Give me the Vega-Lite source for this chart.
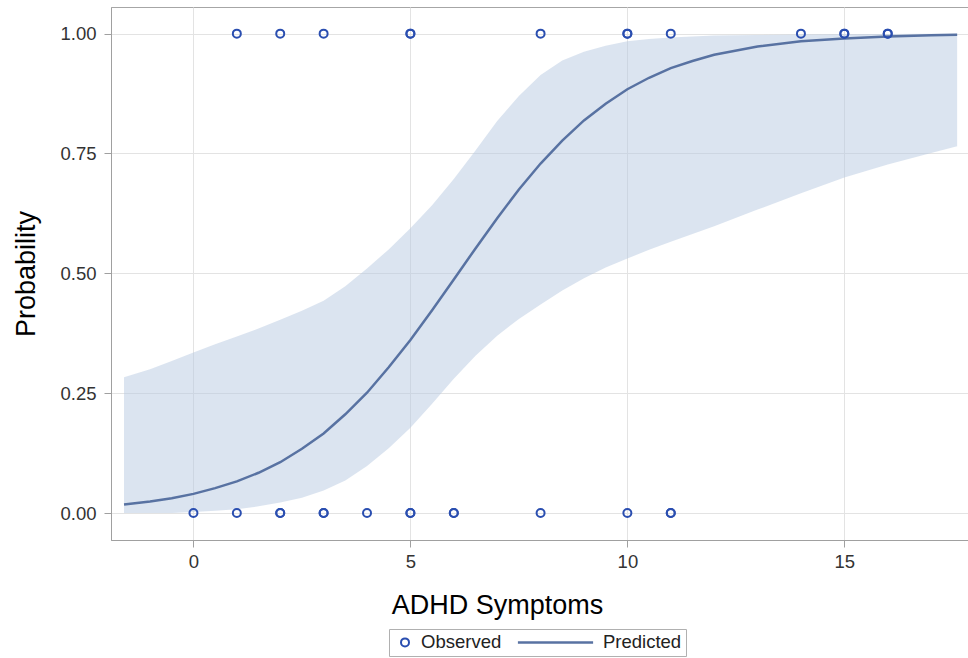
{
  "$schema": "https://vega.github.io/schema/vega-lite/v6.json",
  "width": 857,
  "height": 533,
  "autosize": {"type": "none"},
  "padding": {"left": 111, "top": 7, "right": 0, "bottom": 118},
  "background": "white",
  "config": {
    "font": "Liberation Sans",
    "view": {"stroke": "#a6a6a6", "strokeWidth": 1},
    "axis": {
      "domainColor": "#a0a0a0",
      "tickColor": "#a0a0a0",
      "tickSize": 7,
      "gridColor": "#e3e3e3",
      "labelFontSize": 18.5,
      "labelColor": "#333333",
      "titleFontSize": 27,
      "titleFontWeight": "normal",
      "titleColor": "#000000"
    }
  },
  "datasets": {
    "curve": [
      {"x": -1.6, "p": 0.018, "lo": 0.0, "hi": 0.283},
      {"x": -1.0, "p": 0.024, "lo": 0.0, "hi": 0.300},
      {"x": -0.5, "p": 0.031, "lo": 0.0, "hi": 0.317},
      {"x": 0.0, "p": 0.040, "lo": 0.002, "hi": 0.335},
      {"x": 0.5, "p": 0.052, "lo": 0.005, "hi": 0.352},
      {"x": 1.0, "p": 0.066, "lo": 0.008, "hi": 0.368},
      {"x": 1.5, "p": 0.084, "lo": 0.014, "hi": 0.385},
      {"x": 2.0, "p": 0.106, "lo": 0.022, "hi": 0.403},
      {"x": 2.5, "p": 0.134, "lo": 0.032, "hi": 0.422},
      {"x": 3.0, "p": 0.166, "lo": 0.047, "hi": 0.443},
      {"x": 3.5, "p": 0.206, "lo": 0.068, "hi": 0.473},
      {"x": 4.0, "p": 0.251, "lo": 0.098, "hi": 0.510},
      {"x": 4.5, "p": 0.304, "lo": 0.135, "hi": 0.550},
      {"x": 5.0, "p": 0.361, "lo": 0.178, "hi": 0.594},
      {"x": 5.5, "p": 0.423, "lo": 0.228, "hi": 0.642},
      {"x": 6.0, "p": 0.487, "lo": 0.280, "hi": 0.697},
      {"x": 6.5, "p": 0.552, "lo": 0.328, "hi": 0.756},
      {"x": 7.0, "p": 0.615, "lo": 0.370, "hi": 0.818},
      {"x": 7.5, "p": 0.675, "lo": 0.405, "hi": 0.870},
      {"x": 8.0, "p": 0.729, "lo": 0.435, "hi": 0.914},
      {"x": 8.5, "p": 0.777, "lo": 0.464, "hi": 0.944},
      {"x": 9.0, "p": 0.819, "lo": 0.490, "hi": 0.962},
      {"x": 9.5, "p": 0.854, "lo": 0.512, "hi": 0.975},
      {"x": 10.0, "p": 0.884, "lo": 0.531, "hi": 0.984},
      {"x": 10.5, "p": 0.908, "lo": 0.549, "hi": 0.989},
      {"x": 11.0, "p": 0.928, "lo": 0.566, "hi": 0.992},
      {"x": 11.5, "p": 0.943, "lo": 0.582, "hi": 0.994},
      {"x": 12.0, "p": 0.956, "lo": 0.598, "hi": 0.996},
      {"x": 13.0, "p": 0.973, "lo": 0.633, "hi": 0.997},
      {"x": 14.0, "p": 0.984, "lo": 0.667, "hi": 0.998},
      {"x": 15.0, "p": 0.990, "lo": 0.700, "hi": 0.999},
      {"x": 16.0, "p": 0.994, "lo": 0.727, "hi": 0.9995},
      {"x": 17.0, "p": 0.9966, "lo": 0.751, "hi": 0.9998},
      {"x": 17.6, "p": 0.9975, "lo": 0.765, "hi": 0.9999}
    ],
    "obs": [
      {"x": 0, "y": 0}, {"x": 1, "y": 0}, {"x": 2, "y": 0}, {"x": 2, "y": 0},
      {"x": 3, "y": 0}, {"x": 3, "y": 0}, {"x": 4, "y": 0}, {"x": 5, "y": 0},
      {"x": 5, "y": 0}, {"x": 6, "y": 0}, {"x": 6, "y": 0}, {"x": 8, "y": 0},
      {"x": 10, "y": 0}, {"x": 11, "y": 0}, {"x": 11, "y": 0},
      {"x": 1, "y": 1}, {"x": 2, "y": 1}, {"x": 3, "y": 1}, {"x": 5, "y": 1},
      {"x": 5, "y": 1}, {"x": 8, "y": 1}, {"x": 10, "y": 1}, {"x": 10, "y": 1},
      {"x": 11, "y": 1}, {"x": 14, "y": 1}, {"x": 15, "y": 1}, {"x": 15, "y": 1},
      {"x": 16, "y": 1}, {"x": 16, "y": 1}
    ]
  },
  "layer": [
    {
      "data": {"name": "curve"},
      "mark": {"type": "area", "color": "#b7c9e1", "opacity": 0.5},
      "encoding": {
        "x": {
          "field": "x", "type": "quantitative",
          "scale": {"domain": [-1.9, 17.85], "nice": false, "zero": false},
          "axis": {
            "values": [0, 5, 10, 15], "title": "ADHD Symptoms", "grid": true,
            "labelPadding": 5, "titleX": 386, "titleY": 73, "titleBaseline": "alphabetic",
            "labelFlush": false, "labelOverlap": false
          }
        },
        "y": {
          "field": "lo", "type": "quantitative",
          "scale": {"domain": [-0.05625, 1.0556], "nice": false, "zero": false},
          "axis": {
            "values": [0, 0.25, 0.5, 0.75, 1], "format": ".2f", "title": "Probability",
            "grid": true, "labelPadding": 8, "titleX": -77, "titleY": 266.5,
            "titleBaseline": "alphabetic", "labelFlush": false, "labelOverlap": false
          }
        },
        "y2": {"field": "hi"}
      }
    },
    {
      "data": {"name": "curve"},
      "mark": {"type": "line", "strokeWidth": 2.5},
      "encoding": {
        "x": {"field": "x", "type": "quantitative"},
        "y": {"field": "p", "type": "quantitative"},
        "stroke": {
          "datum": "Predicted", "type": "nominal",
          "scale": {"domain": ["Observed", "Predicted"], "range": ["#2a4eb0", "#5872a2"]},
          "legend": {
            "orient": "none", "legendX": 278, "legendY": 622, "direction": "horizontal",
            "title": null, "strokeColor": "#b0b0b0", "padding": 4,
            "labelFontSize": 18.5, "labelColor": "#222222", "labelOffset": 7,
            "columnPadding": 10, "symbolSize": 64, "symbolStrokeWidth": 2,
            "encode": {
              "symbols": {
                "update": {
                  "shape": {"signal": "datum.value === 'Predicted' ? 'M-9.4,0H9.4' : 'circle'"},
                  "x": {"signal": "datum.value === 'Predicted' ? 43.5 : 12"},
                  "strokeWidth": {"signal": "datum.value === 'Predicted' ? 2.5 : 2"},
                  "fill": {"value": "transparent"}
                }
              },
              "labels": {
                "update": {
                  "x": {"signal": "datum.value === 'Predicted' ? 91 : 28"}
                }
              }
            }
          }
        }
      }
    },
    {
      "data": {"name": "obs"},
      "mark": {"type": "point", "filled": false, "size": 64, "strokeWidth": 2, "opacity": 1},
      "encoding": {
        "x": {"field": "x", "type": "quantitative"},
        "y": {"field": "y", "type": "quantitative"},
        "stroke": {"datum": "Observed", "type": "nominal"}
      }
    }
  ]
}
